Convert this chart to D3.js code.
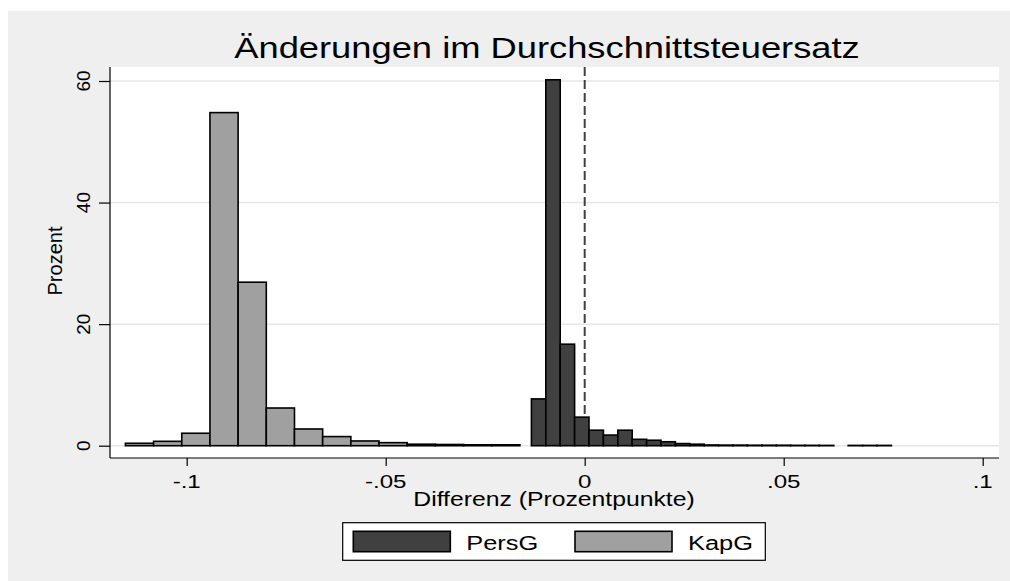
<!DOCTYPE html>
<html>
<head>
<meta charset="utf-8">
<script src="https://cdn.jsdelivr.net/npm/d3@7"></script>
<style>
  body { margin: 0; background: #fff; }
  text { font-family: "Liberation Sans", Arial, sans-serif; fill: #000; }
</style>
</head>
<body>
<div id="chart"></div>
<script>
// histogram data (percent per bin)
const kapgStart = -0.1154, kapgWidth = 0.00708
const kapgPct = [0.4, 0.72, 2.05, 54.8, 26.9, 6.2, 2.75, 1.5, 0.78, 0.5, 0.25, 0.2, 0.15, 0.15]
const persgStart = -0.01339, persgWidth = 0.003618
const persgPct = [7.7, 60.2, 16.7, 4.7, 2.55, 1.75, 2.55, 1.05, 0.9, 0.65,
                  0.35, 0.25, 0.12, 0.1, 0.1, 0.08, 0.08, 0.08, 0.06, 0.06, 0.05,
                  0, 0.05, 0.05, 0.05]
const xTicks = [-0.1, -0.05, 0, 0.05, 0.1]
const xTickLabels = ["-.1", "-.05", "0", ".05", ".1"]
const yTicks = [0, 20, 40, 60]
const seriesNames = ["PersG", "KapG"]
const seriesColors = ["#404040", "#a0a0a0"]

const W = 1010, H = 581
const PLOT = {LEFT: 110, RIGHT: 999, TOP: 67, BOTTOM: 458}
const SX = 1.27   // horizontal stretch of the text

const svg = d3.select("#chart").append("svg")
    .attr("width", W).attr("height", H)

svg.append("rect").attr("x", 8).attr("y", 11).attr("width", W - 8).attr("height", H - 11)
    .attr("fill", "#efefef")
svg.append("rect").attr("x", PLOT.LEFT).attr("y", PLOT.TOP)
    .attr("width", PLOT.RIGHT - PLOT.LEFT).attr("height", PLOT.BOTTOM - PLOT.TOP)
    .attr("fill", "#fff")

const x = d3.scaleLinear().domain([-0.1, 0.1]).range([186.7, 982.7])
const y = d3.scaleLinear().domain([0, 60]).range([445.7, 81])

function hText(g, tx, ty, str, size, anchor) {
  return g.append("text")
    .attr("transform", `translate(${tx},${ty}) scale(${SX},1)`)
    .attr("text-anchor", anchor || "middle")
    .attr("font-size", size)
    .text(str)
}

// grid
svg.append("g").selectAll("line").data(yTicks).enter().append("line")
    .attr("x1", PLOT.LEFT).attr("x2", PLOT.RIGHT)
    .attr("y1", d => y(d)).attr("y2", d => y(d))
    .attr("stroke", "#e6e6e6").attr("stroke-width", 1.5)

// reference line at 0
svg.append("line")
    .attr("x1", x(0)).attr("x2", x(0))
    .attr("y1", PLOT.TOP).attr("y2", y(0))
    .attr("stroke", "#404040").attr("stroke-width", 2)
    .attr("stroke-dasharray", "9,4")

function bars(start, width, vals, color) {
  const data = vals.map((v, i) => ({x0: start + i * width, x1: start + (i + 1) * width, v}))
      .filter(d => d.v > 0)
  svg.append("g").selectAll("rect").data(data).enter().append("rect")
      .attr("x", d => x(d.x0))
      .attr("width", d => x(d.x1) - x(d.x0))
      .attr("y", d => y(d.v))
      .attr("height", d => y(0) - y(d.v))
      .attr("fill", color)
      .attr("stroke", "#000")
      .attr("stroke-width", 1.6)
}
bars(kapgStart, kapgWidth, kapgPct, seriesColors[1])
bars(persgStart, persgWidth, persgPct, seriesColors[0])

// axes
const xAxis = svg.append("g")
    .attr("transform", `translate(0,${PLOT.BOTTOM})`)
    .call(d3.axisBottom(x).tickValues(xTicks).tickSize(8).tickSizeOuter(0).tickFormat(""))
xAxis.select(".domain").remove()
xAxis.selectAll("line").attr("stroke", "#000").attr("stroke-width", 1.2)
svg.append("line").attr("x1", PLOT.LEFT).attr("x2", PLOT.RIGHT)
    .attr("y1", PLOT.BOTTOM).attr("y2", PLOT.BOTTOM)
    .attr("stroke", "#000").attr("stroke-width", 1.2)
xTicks.forEach((t, i) => hText(svg, x(t), 487.5, xTickLabels[i], 19))

const yAxis = svg.append("g")
    .attr("transform", `translate(${PLOT.LEFT},0)`)
    .call(d3.axisLeft(y).tickValues(yTicks).tickSize(11).tickSizeOuter(0).tickFormat(""))
yAxis.select(".domain").remove()
yAxis.selectAll("line").attr("stroke", "#000").attr("stroke-width", 1.2)
svg.append("line").attr("x1", PLOT.LEFT).attr("x2", PLOT.LEFT)
    .attr("y1", PLOT.TOP).attr("y2", PLOT.BOTTOM)
    .attr("stroke", "#000").attr("stroke-width", 1.2)
svg.append("g").selectAll("text").data(yTicks).enter().append("text")
    .attr("transform", d => `translate(90,${y(d)}) rotate(-90)`)
    .attr("text-anchor", "middle")
    .attr("font-size", 19)
    .text(d => d)

svg.append("text")
    .attr("transform", `translate(62,261) rotate(-90)`)
    .attr("text-anchor", "middle")
    .attr("font-size", 20)
    .text("Prozent")

// titles
hText(svg, 547, 58, "Änderungen im Durchschnittsteuersatz", 28.6)
hText(svg, 554, 506, "Differenz (Prozentpunkte)", 19.5)

// legend
const lg = svg.append("g")
lg.append("rect").attr("x", 342.7).attr("y", 522.7).attr("width", 422.6).attr("height", 37.6)
    .attr("fill", "#fff").attr("stroke", "#000").attr("stroke-width", 1.2)
const legendKeys = [353.3, 575]
seriesNames.forEach((name, i) => {
  lg.append("rect").attr("x", legendKeys[i]).attr("y", 531.3)
      .attr("width", 97).attr("height", 20.4)
      .attr("fill", seriesColors[i]).attr("stroke", "#000").attr("stroke-width", 1.6)
  hText(lg, legendKeys[i] + 113, 550, name, 20, "start")
})
</script>
</body>
</html>
